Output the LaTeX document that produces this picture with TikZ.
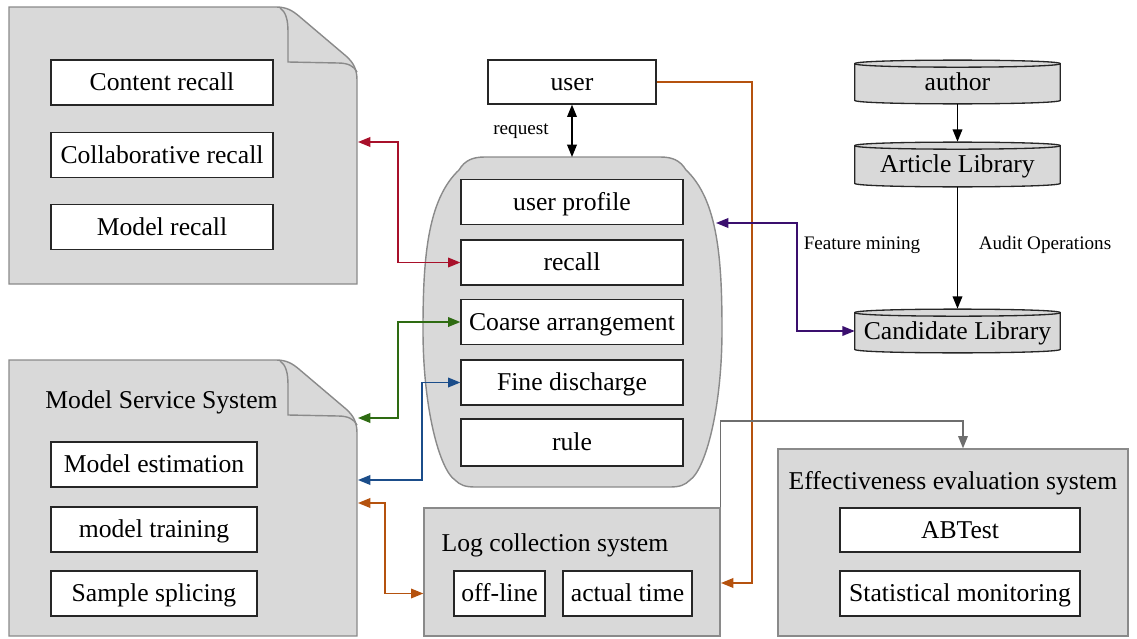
\documentclass[tikz,border=0pt]{standalone}
\usepackage{fontspec}
\setmainfont{Liberation Serif}
\usetikzlibrary{arrows.meta,calc}
\definecolor{boxgray}{HTML}{D9D9D9}
\definecolor{edgegray}{HTML}{8A8A8A}
\definecolor{cred}{HTML}{A8102A}
\definecolor{cgreen}{HTML}{2E6B12}
\definecolor{cblue}{HTML}{1B4D8A}
\definecolor{corange}{HTML}{B5520E}
\definecolor{cpurple}{HTML}{3A0F6E}
\definecolor{cgrayarr}{HTML}{6E6E6E}
\newcommand\dgmfont{\fontsize{14.6}{17}\selectfont}
\newcommand\dgmsmall{\fontsize{10.9}{13}\selectfont}
\pgfdeclarelayer{background}
\pgfsetlayers{background,main}
\tikzset{
  cont/.style={draw=edgegray, fill=boxgray, line width=0.8pt},
  ibox/.style={draw=black!85, fill=white, line width=0.75pt, inner sep=0pt,
    minimum height=0.9cm, font=\dgmfont, text height=11pt, text depth=1.5pt},
  cylnode/.style={inner sep=0pt, minimum width=4.1cm, font=\dgmfont, text height=11pt, text depth=1.5pt},
  cylpath/.style={draw=black!85, fill=boxgray, line width=0.75pt},
  ttl/.style={inner sep=0pt, font=\dgmfont, text height=11pt, text depth=1.5pt},
  lbl/.style={inner sep=0pt, font=\dgmsmall},
  tip/.style={-{Triangle[length=7pt,width=5.5pt]}},
  tips/.style={{Triangle[length=7pt,width=5.5pt]}-{Triangle[length=7pt,width=5.5pt]}},
  conn/.style={line width=0.8pt},
}
\newcommand\drawcyl[1]{%
  \path[cylpath] (#1.north west) -- (#1.south west)
    .. controls +(0,4.7) and +(0,4.7) .. (#1.south east) -- (#1.north east)
    .. controls +(0,-4.7) and +(0,-4.7) .. (#1.north west) -- cycle;
  \draw[black!85, line width=0.75pt] (#1.north west) .. controls +(0,4.7) and +(0,4.7) .. (#1.north east);
}
\begin{document}
\begin{tikzpicture}[x=0.02cm,y=-0.02cm]
\useasboundingbox (0,0) rectangle (1137,639);

% ---- document shape 1 (recall)
\draw[cont] (9,7) -- (276,7) .. controls (286,7) and (292,10) .. (300,17) -- (346,56)
  .. controls (354,63) and (357,70) .. (357,80) -- (357,284) -- (9,284) -- cycle;
\draw[edgegray, line width=0.8pt] (280,8) .. controls (286,12) and (288,20) .. (288,32) -- (288,62)
  -- (338,63) .. controls (348,63) and (354,66) .. (357,72);
\node[ibox, minimum width=4.44cm] (content) at (162,82.5) {Content recall};
\node[ibox, minimum width=4.44cm] (collab) at (162,155) {Collaborative recall};
\node[ibox, minimum width=4.44cm] (mrecall) at (162,227) {Model recall};

% ---- document shape 2 (model service)
\begin{scope}[shift={(0,353)}]
\draw[cont] (9,7) -- (276,7) .. controls (286,7) and (292,10) .. (300,17) -- (346,56)
  .. controls (354,63) and (357,70) .. (357,80) -- (357,283) -- (9,283) -- cycle;
\draw[edgegray, line width=0.8pt] (280,8) .. controls (286,12) and (288,20) .. (288,32) -- (288,62)
  -- (338,63) .. controls (348,63) and (354,66) .. (357,72);
\end{scope}
\node[ttl] (mst) at (161.5,400) {Model Service System};
\node[ibox, minimum width=4.12cm] (mest) at (154,464.5) {Model estimation};
\node[ibox, minimum width=4.12cm] (mtrain) at (154,529.5) {model training};
\node[ibox, minimum width=4.12cm] (splice) at (154,593.5) {Sample splicing};

% ---- central barrel shape
\draw[cont] (485,157) -- (660,157) .. controls (672,157) and (680,160) .. (686,170)
  .. controls (718,200) and (722,260) .. (722,330)
  .. controls (722,410) and (705,470) .. (690,480)
  .. controls (685,485) and (680,487) .. (670,487) -- (475,487)
  .. controls (465,487) and (460,485) .. (455,480)
  .. controls (440,470) and (423,410) .. (423,330)
  .. controls (423,260) and (427,200) .. (459,170)
  .. controls (465,160) and (473,157) .. (485,157) -- cycle;
\node[ibox, minimum width=4.44cm] (uprof) at (572,202) {user profile};
\node[ibox, minimum width=4.44cm] (recall) at (572,262.5) {recall};
\node[ibox, minimum width=4.44cm] (coarse) at (572,322) {Coarse arrangement};
\node[ibox, minimum width=4.44cm] (fine) at (572,382.5) {Fine discharge};
\node[ibox, minimum width=4.44cm, minimum height=0.94cm] (rule) at (572,442.5) {rule};

% ---- user
\node[ibox, minimum width=3.36cm, minimum height=0.88cm] (user) at (572,82) {user};
\node[lbl] (req) at (521,131) {request};
\coordinate (ctop) at (572,157);
\draw[conn, tips, black] (user.south) -- (ctop);

% ---- log collection system
\node[cont, minimum width=5.92cm, minimum height=2.56cm, inner sep=0pt] (log) at (572,572) {};
\node[ttl] (logt) at (555,543) {Log collection system};
\node[ibox, minimum width=1.82cm] (offline) at (499.5,593.5) {off-line};
\node[ibox, minimum width=2.58cm] (actual) at (627.5,593.5) {actual time};

% ---- effectiveness evaluation system
\node[cont, minimum width=7.0cm, minimum height=3.74cm, inner sep=0pt] (eff) at (953,542.5) {};
\node[ttl] (efft) at (953,481) {Effectiveness evaluation system};
\node[ibox, minimum width=4.8cm, minimum height=0.88cm] (abtest) at (960,530) {ABTest};
\node[ibox, minimum width=4.8cm] (statmon) at (960,593.5) {Statistical monitoring};

% ---- right column cylinders
\node[cylnode, minimum height=0.72cm] (author) at (957.5,82) {author};
\node[cylnode, minimum height=0.74cm] (article) at (957.5,164.5) {Article Library};
\node[cylnode, minimum height=0.72cm] (cand) at (957.5,331) {Candidate Library};
\begin{pgfonlayer}{background}
\drawcyl{author}
\drawcyl{article}
\drawcyl{cand}
\end{pgfonlayer}
\draw[conn, tip, black] ($(author.south)+(0,4)$) -- ($(article.north)+(0,-4)$);
\draw[conn, tip, black] ($(article.south)+(0,4)$) -- ($(cand.north)+(0,-4)$);
\node[lbl] (fm) at (862,245) {Feature mining};
\node[lbl] (ao) at (1045,245) {Audit Operations};

% ---- connectors
\coordinate (d1r) at (358,142);
\draw[conn, tips, cred] (d1r) -- ++(40,0) |- (recall.west);
\coordinate (d2g) at (358,418);
\draw[conn, tips, cgreen] (d2g) -- ++(40,0) |- (coarse.west);
\coordinate (d2b) at (358,480);
\draw[conn, tips, cblue] (d2b) -- ++(64,0) |- (fine.west);
\coordinate (d2o) at (358,503);
\draw[conn, tips, corange] (d2o) -- ++(27,0) |- (offline.west -| log.west);
\coordinate (oturn) at (752,583);
\coordinate (lo) at (721,583);
\draw[conn, tip, corange] (user.east) -| (oturn) -- (lo);
\coordinate (cr) at (716,223);
\draw[conn, tips, cpurple] (cr) -- ++(81,0) |- (cand.west);
\coordinate (gturn) at (963,421);
\draw[conn, tip, cgrayarr] (log.north east) |- (gturn) -- (gturn |- eff.north);
\end{tikzpicture}
\end{document}
